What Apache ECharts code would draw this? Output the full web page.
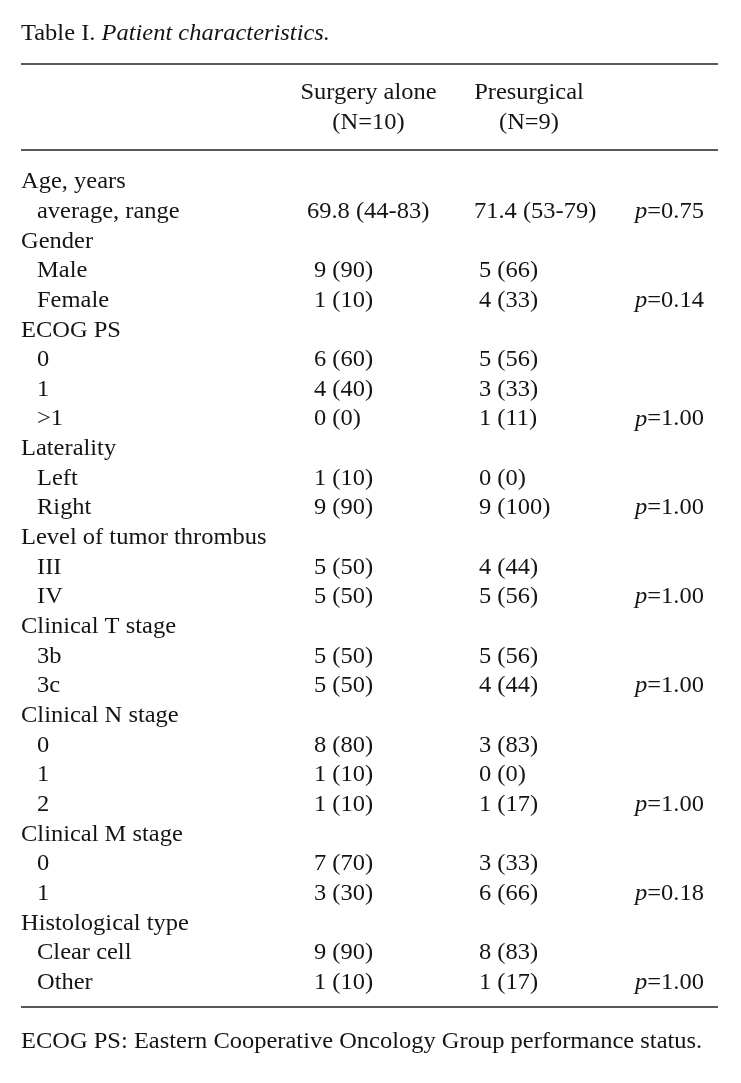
<!DOCTYPE html>
<html><head><meta charset="utf-8">
<script src="https://cdn.jsdelivr.net/npm/echarts@6/dist/echarts.min.js"></script>
<style>html,body{margin:0;padding:0;background:#fff}#c{width:741px;height:1083px}</style>
</head><body><div id="c"></div>
<script>
// ---- data ----
const tableTitle = 'Table I.';
const tableSubtitle = 'Patient characteristics.';
const groupNames = ['Surgery alone', 'Presurgical'];
const groupCounts = ['(N=10)', '(N=9)'];
const rowLabels = ['Age, years','average, range','Gender','Male','Female','ECOG PS','0','1','>1','Laterality','Left','Right','Level of tumor thrombus','III','IV','Clinical T stage','3b','3c','Clinical N stage','0','1','2','Clinical M stage','0','1','Histological type','Clear cell','Other'];
const rowIsSub = [0,1,0,1,1,0,1,1,1,0,1,1,0,1,1,0,1,1,0,1,1,1,0,1,1,0,1,1];
const surgeryAlone = ['', '69.8 (44-83)', '', '9 (90)', '1 (10)', '', '6 (60)', '4 (40)', '0 (0)', '', '1 (10)', '9 (90)', '', '5 (50)', '5 (50)', '', '5 (50)', '5 (50)', '', '8 (80)', '1 (10)', '1 (10)', '', '7 (70)', '3 (30)', '', '9 (90)', '1 (10)'];
const presurgical = ['', '71.4 (53-79)', '', '5 (66)', '4 (33)', '', '5 (56)', '3 (33)', '1 (11)', '', '0 (0)', '9 (100)', '', '4 (44)', '5 (56)', '', '5 (56)', '4 (44)', '', '3 (83)', '0 (0)', '1 (17)', '', '3 (33)', '6 (66)', '', '8 (83)', '1 (17)'];
const pValues = ['', '0.75', '', '', '0.14', '', '', '', '1.00', '', '', '1.00', '', '', '1.00', '', '', '1.00', '', '', '', '1.00', '', '', '0.18', '', '', '1.00'];
const footnote = 'ECOG PS: Eastern Cooperative Oncology Group performance status.';

// ---- layout ----
const FONT_FAMILY = '"Liberation Serif", "Times New Roman", serif';
const FONT_SIZE = 24;
const SX = 1.02;
const INK = '#141414';
const LEFT = 21, RIGHT = 718;
const SUB_X = 37;
const COL_X = [314, 479];
const COL_X_WIDE = [307, 474];
const P_X = 635;
const HEAD_CX = [368.5, 529];
const ROW0 = 182, ROW_H = 29.65;

function txt(x, y, text, extra) {
  return {
    type: 'text', x: x, y: y, scaleX: SX, silent: true,
    style: Object.assign({
      text: text, fontFamily: FONT_FAMILY, fontSize: FONT_SIZE,
      fill: INK, align: 'left', verticalAlign: 'middle'
    }, extra || {})
  };
}
function hline(y) {
  return { type: 'line', silent: true, shape: { x1: LEFT, y1: y, x2: RIGHT, y2: y },
    style: { stroke: '#222', lineWidth: 1.6 } };
}
const richBase = { fontFamily: FONT_FAMILY, fontSize: FONT_SIZE, fill: INK };

const els = [];
els.push(txt(LEFT, 33.5, '{n|' + tableTitle + ' }{i|' + tableSubtitle + '}', {
  rich: { n: Object.assign({}, richBase), i: Object.assign({ fontStyle: 'italic' }, richBase) }
}));
els.push(hline(64));
groupNames.forEach(function (g, i) {
  els.push(txt(HEAD_CX[i], 92.5, g, { align: 'center' }));
  els.push(txt(HEAD_CX[i], 122.5, groupCounts[i], { align: 'center' }));
});
els.push(hline(150));
rowLabels.forEach(function (lab, r) {
  const y = ROW0 + r * ROW_H;
  els.push(txt(rowIsSub[r] ? SUB_X : LEFT, y, lab));
  const wide = surgeryAlone[r].length > 8;
  if (surgeryAlone[r]) els.push(txt(wide ? COL_X_WIDE[0] : COL_X[0], y, surgeryAlone[r]));
  if (presurgical[r]) els.push(txt(wide ? COL_X_WIDE[1] : COL_X[1], y, presurgical[r]));
  if (pValues[r]) els.push(txt(P_X, y, '{i|p}{n|=' + pValues[r] + '}', {
    rich: { n: Object.assign({}, richBase), i: Object.assign({ fontStyle: 'italic' }, richBase) }
  }));
});
els.push(hline(1007));
els.push(txt(LEFT, 1042, footnote));

const chart = echarts.init(document.getElementById('c'), null, { renderer: 'canvas' });
chart.setOption({ backgroundColor: '#fff', animation: false, graphic: { elements: els } });
</script>
</body></html>
